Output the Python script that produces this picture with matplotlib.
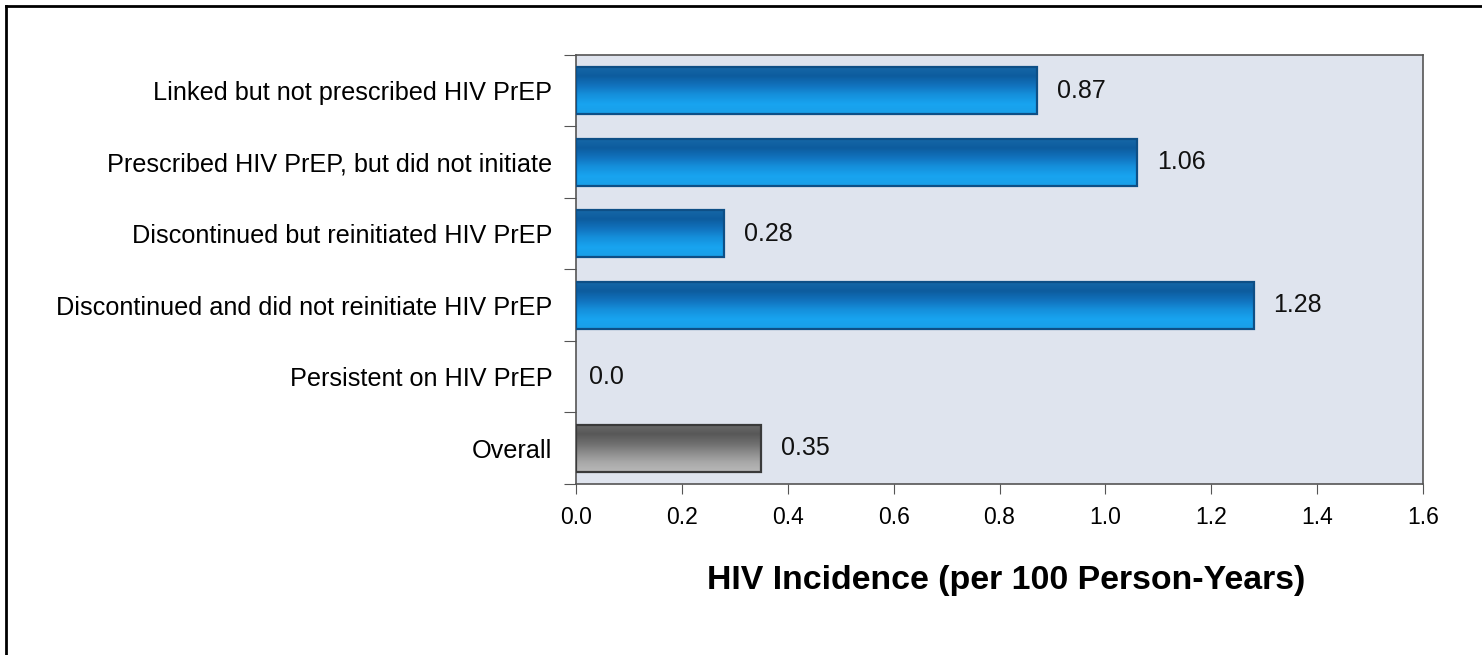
import matplotlib
import matplotlib.pyplot as plt
import numpy as np
from matplotlib.colors import LinearSegmentedColormap
from matplotlib.lines import Line2D

matplotlib.use("Agg")

plt.rcParams["font.family"] = ["Liberation Sans", "DejaVu Sans"]

categories = [
    "Linked but not prescribed HIV PrEP",
    "Prescribed HIV PrEP, but did not initiate",
    "Discontinued but reinitiated HIV PrEP",
    "Discontinued and did not reinitiate HIV PrEP",
    "Persistent on HIV PrEP",
    "Overall",
]
incidence = [0.87, 1.06, 0.28, 1.28, 0.0, 0.35]
is_overall = [False, False, False, False, False, True]

x_ticks = [0.0, 0.2, 0.4, 0.6, 0.8, 1.0, 1.2, 1.4, 1.6]

# vertical shading for the bevelled bars (bottom -> top)
blue_cmap = LinearSegmentedColormap.from_list(
    "blue_bar", ["#1a9fe8", "#18a4f0", "#1590dc", "#1172bd", "#0d5c9e", "#1668a8"]
)
gray_cmap = LinearSegmentedColormap.from_list(
    "gray_bar", ["#b8b8b8", "#a8a8a8", "#8c8c8c", "#6e6e6e", "#585858", "#6a6a6a"]
)
grad = np.linspace(0, 1, 64).reshape(-1, 1)

fig = plt.figure(figsize=(14.82, 6.55), dpi=100)
ax = fig.add_axes([0.3887, 0.2611, 0.5715, 0.6550])
ax.set_facecolor("#dfe4ee")

n = len(categories)
ypos = [n - 1 - i for i in range(n)]
bar_h = 0.66

for y, v, grey in zip(ypos, incidence, is_overall):
    if v > 0:
        ax.imshow(
            grad,
            extent=(0, v, y - bar_h / 2, y + bar_h / 2),
            origin="lower",
            aspect="auto",
            cmap=gray_cmap if grey else blue_cmap,
            zorder=2,
        )
        ax.barh(
            y,
            v,
            height=bar_h,
            fill=False,
            edgecolor="#3a3a3a" if grey else "#0e4f86",
            linewidth=1.6,
            zorder=3,
        )
    label = "0.0" if v == 0 else f"{v:.2f}"
    ax.annotate(
        label,
        xy=(v, y),
        xytext=(13 if v == 0 else 20, 0),
        textcoords="offset pixels",
        va="center",
        ha="left",
        fontsize=18,
        color="#111111",
    )

ax.set_xlim(0, 1.6)
ax.set_ylim(-0.5, n - 0.5)

# boundary ticks between categories, labels at the category centres
ax.set_yticks([k - 0.5 for k in range(n + 1)])
ax.set_yticklabels([])
ax.set_yticks(ypos, minor=True)
ax.set_yticklabels(categories, minor=True, fontsize=18.2)
ax.tick_params(axis="y", which="major", direction="out", length=9, color="#555555")
ax.tick_params(axis="y", which="minor", length=0, pad=17)

ax.set_xticks(x_ticks)
ax.set_xticklabels([f"{t:.1f}" for t in x_ticks], fontsize=16.5)
ax.tick_params(axis="x", direction="out", length=7, color="#555555", pad=9)

for side in ("top", "right", "bottom", "left"):
    ax.spines[side].set_color("#555555")
    ax.spines[side].set_linewidth(1.2)

ax.set_xlabel("HIV Incidence (per 100 Person-Years)", fontsize=24.4, fontweight="bold")
ax.xaxis.set_label_coords(0.508, -0.19)

# thin black frame along the top and left of the slide
fig.add_artist(Line2D([0.004, 1.0], [0.991, 0.991], color="black", linewidth=2,
                      transform=fig.transFigure))
fig.add_artist(Line2D([0.004, 0.004], [0.0, 0.991], color="black", linewidth=2,
                      transform=fig.transFigure))

fig.savefig("out.png", dpi=100, facecolor="white")
plt.close(fig)
